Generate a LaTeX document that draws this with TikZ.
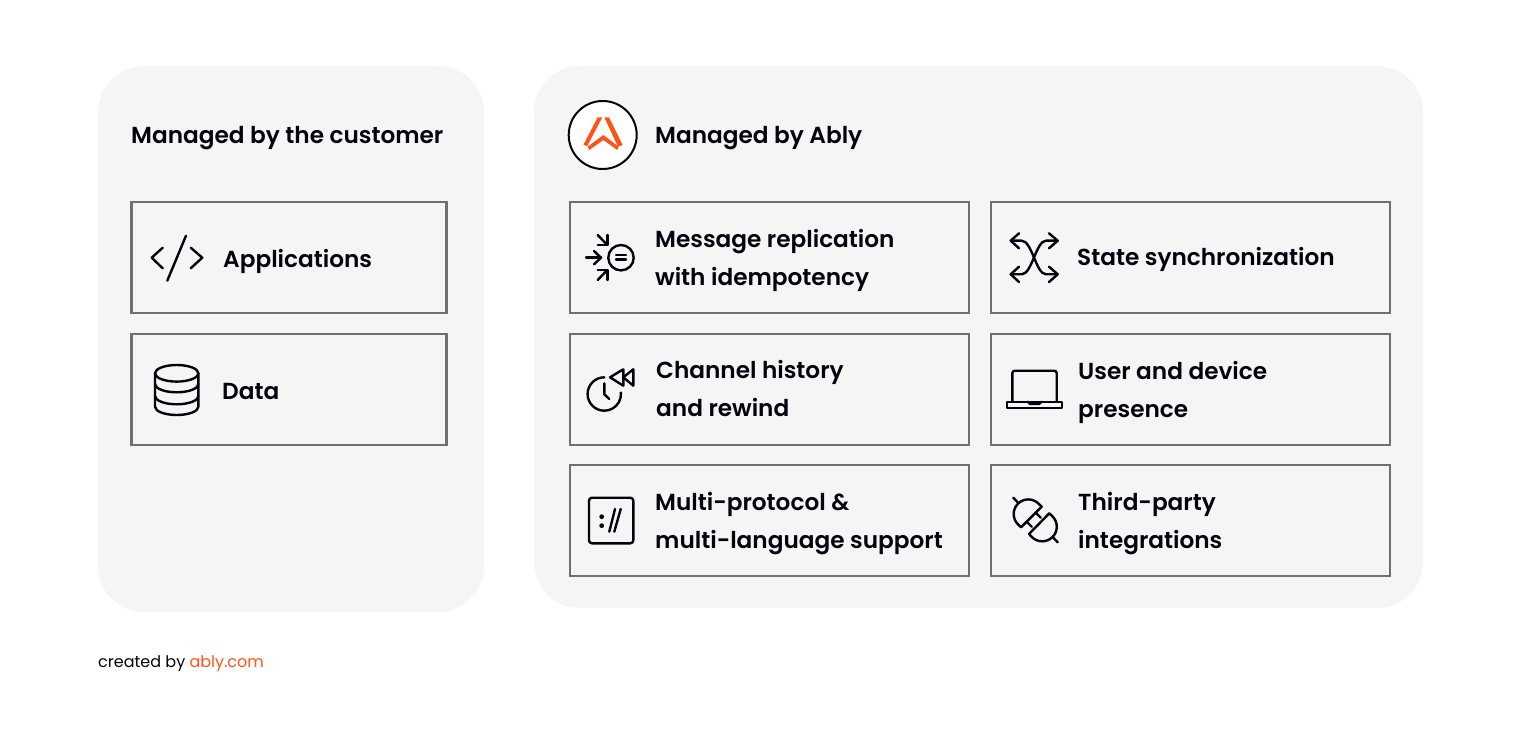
\documentclass[tikz,border=0pt]{standalone}
\usepackage{fontspec}
\setmainfont{Poppins}
\newfontfamily\medfont{Poppins SemiBold}
\definecolor{panelgray}{HTML}{F5F5F5}
\definecolor{boxgray}{HTML}{6F6F75}
\definecolor{inkblack}{HTML}{03020D}
\definecolor{ablyred}{HTML}{FF5416}
\tikzset{
  panel/.style={fill=panelgray,rounded corners=46pt,inner sep=0pt,outer sep=0pt},
  itembox/.style={draw=boxgray,line width=2.4pt,fill=panelgray,minimum height=111pt,inner sep=0pt,outer sep=0pt},
  heading/.style={anchor=base west,inner sep=0pt,text=inkblack,font=\medfont\fontsize{23.2}{38}\selectfont},
  label/.style={anchor=base west,inner sep=0pt,text=inkblack,align=left,font=\medfont\fontsize{23.2}{38}\selectfont},
  icon/.style={draw=inkblack,line width=2.4pt,line cap=round,line join=round},
}
\begin{document}
\begin{tikzpicture}[x=1pt,y=-1pt]
  \useasboundingbox (0,0) rectangle (1520,735);
  \node[panel,minimum width=386pt,minimum height=546pt] (customerpanel) at (291,339) {};
  \node[panel,minimum width=889pt,minimum height=542pt] (ablypanel) at (978.5,337) {};

  \node[heading] (customerhead) at (131,144) {Managed by the customer};
  \node[heading] (ablyhead) at (655,144) {Managed by Ably};

  \node[itembox,minimum width=315pt] (appsbox) at (289,257.5) {};
  \node[itembox,minimum width=315pt] (databox) at (289,389.5) {};
  \node[itembox,minimum width=399pt] (replbox) at (769.5,257.5) {};
  \node[itembox,minimum width=399pt] (statebox) at (1190.5,257.5) {};
  \node[itembox,minimum width=399pt] (historybox) at (769.5,389.5) {};
  \node[itembox,minimum width=399pt] (presencebox) at (1190.5,389.5) {};
  \node[itembox,minimum width=399pt] (protocolbox) at (769.5,520.5) {};
  \node[itembox,minimum width=399pt] (pluginbox) at (1190.5,520.5) {};

  \node[label] (appstext) at (223,268) {Applications};
  \node[label] (datatext) at (222,399.5) {Data};
  \node[label] (repltext) at (655,286) {Message replication\\with idempotency};
  \node[label] (statetext) at (1077,265.5) {State synchronization};
  \node[label] (historytext) at (656,416) {Channel history\\and rewind};
  \node[label] (presencetext) at (1078,417.5) {User and device\\presence};
  \node[label] (protocoltext) at (655,548) {Multi-protocol \&\\multi-language support};
  \node[label] (plugintext) at (1078,548) {Third-party\\integrations};

  \node[anchor=base west,inner sep=0pt,text=inkblack,font=\fontsize{16}{20}\selectfont] (createdtext) at (98,667) {created by \textcolor{ablyred}{ably.com}};

  % logo
  \draw[inkblack,line width=2pt,fill=white] (602.7,135) circle (34pt);
  \fill[ablyred] (597.7,117.3) -- (602.3,117.3) -- (587.3,146) -- (583.3,145) -- cycle;
  \fill[ablyred] (604.3,117.3) -- (609,117.3) -- (622.7,145) -- (618,146.7) -- cycle;
  \fill[ablyred] (587.7,146.7) -- (603.3,135) -- (618.7,146.7) -- (617.3,150) -- (603.3,140) -- (589.3,150) -- cycle;

  % code
  \draw[icon] (162.7,247.7) -- (151.7,257.7) -- (162.7,268.3);
  \draw[icon] (190.7,247.7) -- (202.3,257.7) -- (190.7,268.3);
  \draw[icon] (186,235.7) -- (167.3,280.7);

  % database
  \draw[icon] (176.7,373.3) ellipse (21.7pt and 8.3pt);
  \draw[icon] (155,373.3) -- (155,406.7) arc[start angle=180,end angle=360,x radius=21.7pt,y radius=8.3pt] -- (198.4,373.3);
  \draw[icon] (155,384) arc[start angle=180,end angle=360,x radius=21.7pt,y radius=8.3pt];
  \draw[icon] (155,396) arc[start angle=180,end angle=360,x radius=21.7pt,y radius=8.3pt];

  % replication
  \draw[icon] (621,257.7) circle (12.7pt);
  \draw[icon] (616,255.3) -- (626,255.3);
  \draw[icon] (616,259.6) -- (626,259.6);
  \draw[icon] (597.7,235) -- (607.3,245);
  \draw[icon] (607.3,235) -- (607.3,245) -- (597.7,245);
  \draw[icon] (586,257.7) -- (601,257.7);
  \draw[icon] (594,251) -- (601,257.7) -- (594,264.3);
  \draw[icon] (597.7,280) -- (607.3,270);
  \draw[icon] (597.7,270) -- (607.3,270) -- (607.3,280);

  % synchronization
  \draw[icon] (1010.7,240.7) -- (1021.7,240.7) .. controls (1032,240.7) and (1036,274.3) .. (1046,274.3) -- (1057.7,274.3);
  \draw[icon] (1010.7,274.3) -- (1021.7,274.3) .. controls (1032,274.3) and (1036,240.7) .. (1046,240.7) -- (1057.7,240.7);
  \draw[icon] (1019,233.3) -- (1010.7,240.7) -- (1019,248.3);
  \draw[icon] (1019,266.7) -- (1010.7,274.3) -- (1019,282);
  \draw[icon] (1049,233.3) -- (1057.7,240.7) -- (1049,248.3);
  \draw[icon] (1049,266.7) -- (1057.7,274.3) -- (1049,282);

  % clock
  \draw[icon] (604.3,377.3) arc[start angle=90,end angle=365,radius=16.7pt];
  \draw[icon] (604.3,383.3) -- (604.3,394.3) -- (609.3,399);
  \draw[icon] (610,377.3) -- (623.3,369.3) -- (623.3,385.7) -- cycle;
  \draw[icon] (623.3,377.3) -- (633.3,369.3) -- (633.3,385.7) -- cycle;

  % laptop
  \draw[icon,rounded corners=2.5pt] (1012.3,401.7) -- (1012.3,370.7) -- (1056.7,370.7) -- (1056.7,401.7);
  \draw[icon] (1006.7,401.7) rectangle (1061.7,407.7);
  \draw[icon] (1027.7,401.7) -- (1030,404) -- (1039,404) -- (1041.7,401.7);

  % terminal
  \draw[icon,rounded corners=3pt] (589,497.7) rectangle (633.3,543.3);
  \fill[inkblack] (601.7,516.7) circle (2.4pt) (601.7,525.7) circle (2.4pt);
  \draw[icon] (609.3,531.7) -- (615,509);
  \draw[icon] (614.3,531.7) -- (620.7,509);

  % plug
  \draw[icon] (1041.7,506.7) -- (1038.6,503.7) arc[start angle=45,end angle=225,radius=14.6pt] -- (1021,527.3) -- cycle;
  \draw[icon] (1013.3,497.7) -- (1017.7,502.3);
  \draw[icon] (1035.7,512.7) -- (1040.7,517.7);
  \draw[icon] (1026.7,521.7) -- (1031.7,526.7);
  \draw[icon] (1049.3,513.3) -- (1052.5,516.4) arc[start angle=45,end angle=-135,radius=14.6pt] -- (1029,534) -- cycle;
  \draw[icon] (1053.3,537.7) -- (1057.7,542.3);
\end{tikzpicture}
\end{document}
